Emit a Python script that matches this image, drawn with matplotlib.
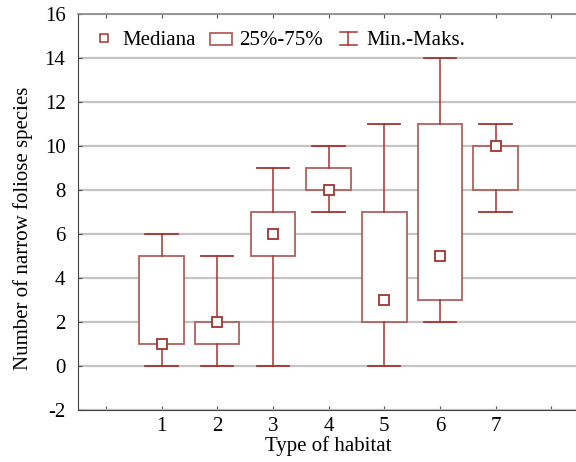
import numpy as np
import matplotlib
matplotlib.use("Agg")
import matplotlib.pyplot as plt
from matplotlib.lines import Line2D
from matplotlib.patches import Rectangle
from matplotlib.legend_handler import HandlerBase

plt.rcParams['font.family'] = ['Liberation Serif', 'DejaVu Serif']
plt.rcParams['axes.unicode_minus'] = False

# data
habitat = [1, 2, 3, 4, 5, 6, 7]
mins = [0, 0, 0, 7, 0, 2, 7]
q1 = [1, 1, 5, 8, 2, 3, 8]
medians = [1, 2, 6, 8, 3, 5, 10]
q3 = [5, 2, 7, 9, 7, 11, 10]
maxs = [6, 5, 9, 10, 11, 14, 11]

box_col = '#b3605a'
whisk_col = '#a3342e'
fs = 15

stats = []
for i in range(len(habitat)):
    stats.append(dict(med=medians[i], q1=q1[i], q3=q3[i],
                      whislo=mins[i], whishi=maxs[i], fliers=[]))

fig = plt.figure(figsize=(5.76, 4.62), dpi=100)
ax = fig.add_axes([0.1354, 0.1126, 0.870, 0.857])

ax.set_axisbelow(True)
ax.bxp(stats, positions=habitat, widths=0.8, capwidths=0.58,
       showfliers=False, patch_artist=True,
       boxprops=dict(facecolor='white', edgecolor=box_col, linewidth=1.3),
       whiskerprops=dict(color=whisk_col, linewidth=1.1),
       capprops=dict(color=whisk_col, linewidth=1.3),
       medianprops=dict(linewidth=0))
ax.plot(habitat, medians, ls='none', marker='s', ms=7, mfc='white',
        mec=whisk_col, mew=1.3, zorder=5)

ax.set_xlim(-0.5, 8.5)
ax.set_ylim(-2, 16)
ax.set_yticks(np.arange(-2, 17, 2))
ax.set_xticks(np.arange(0, 9))
ax.set_xticklabels([''] + [str(h) for h in habitat] + [''])
ax.yaxis.grid(True, color='#c4c4c4', linewidth=1.6)
ax.tick_params(axis='both', direction='in', length=3, labelsize=fs,
               color='#505050', top=True)
ax.tick_params(axis='y', pad=9)
ax.tick_params(axis='x', pad=5)
for s in ['left', 'bottom']:
    ax.spines[s].set_color('#404040')
ax.spines['top'].set_color('#888888')
ax.spines['top'].set_linewidth(1.2)
ax.spines['right'].set_visible(False)

ax.set_xlabel('Type of habitat', fontsize=fs, labelpad=0)
ax.set_ylabel('Number of narrow foliose species', fontsize=fs)
ax.yaxis.set_label_coords(-0.09, 0.46)


class WhiskerHandler(HandlerBase):
    def create_artists(self, legend, orig_handle, xdescent, ydescent,
                       width, height, fontsize, trans):
        cx = width / 2 - xdescent
        hw = width * 0.4
        y0 = -ydescent
        y1 = height * 0.95 - ydescent
        kw = dict(color=whisk_col, linewidth=1.1, transform=trans)
        return [Line2D([cx, cx], [y0, y1], **kw),
                Line2D([cx - hw, cx + hw], [y0, y0], **kw),
                Line2D([cx - hw, cx + hw], [y1, y1], **kw)]


class BoxHandler(HandlerBase):
    def create_artists(self, legend, orig_handle, xdescent, ydescent,
                       width, height, fontsize, trans):
        r = Rectangle((-xdescent, -ydescent + height * 0.05), width, height * 0.8,
                      facecolor='white', edgecolor=box_col, linewidth=1.3,
                      transform=trans)
        return [r]


h_med = Line2D([], [], ls='none', marker='s', ms=6, mfc='white',
               mec=whisk_col, mew=1.1)
h_box = Rectangle((0, 0), 1, 1)
h_whisk = Line2D([], [])
ax.legend([h_med, h_box, h_whisk], ['Mediana', '25%-75%', 'Min.-Maks.'],
          handler_map={Rectangle: BoxHandler(), h_whisk: WhiskerHandler()},
          ncol=3, loc='upper left', bbox_to_anchor=(-0.008, 1.005),
          frameon=False, fontsize=fs, handlelength=1.05, handletextpad=0.35,
          columnspacing=0.7)

fig.savefig('out.png', dpi=100)
